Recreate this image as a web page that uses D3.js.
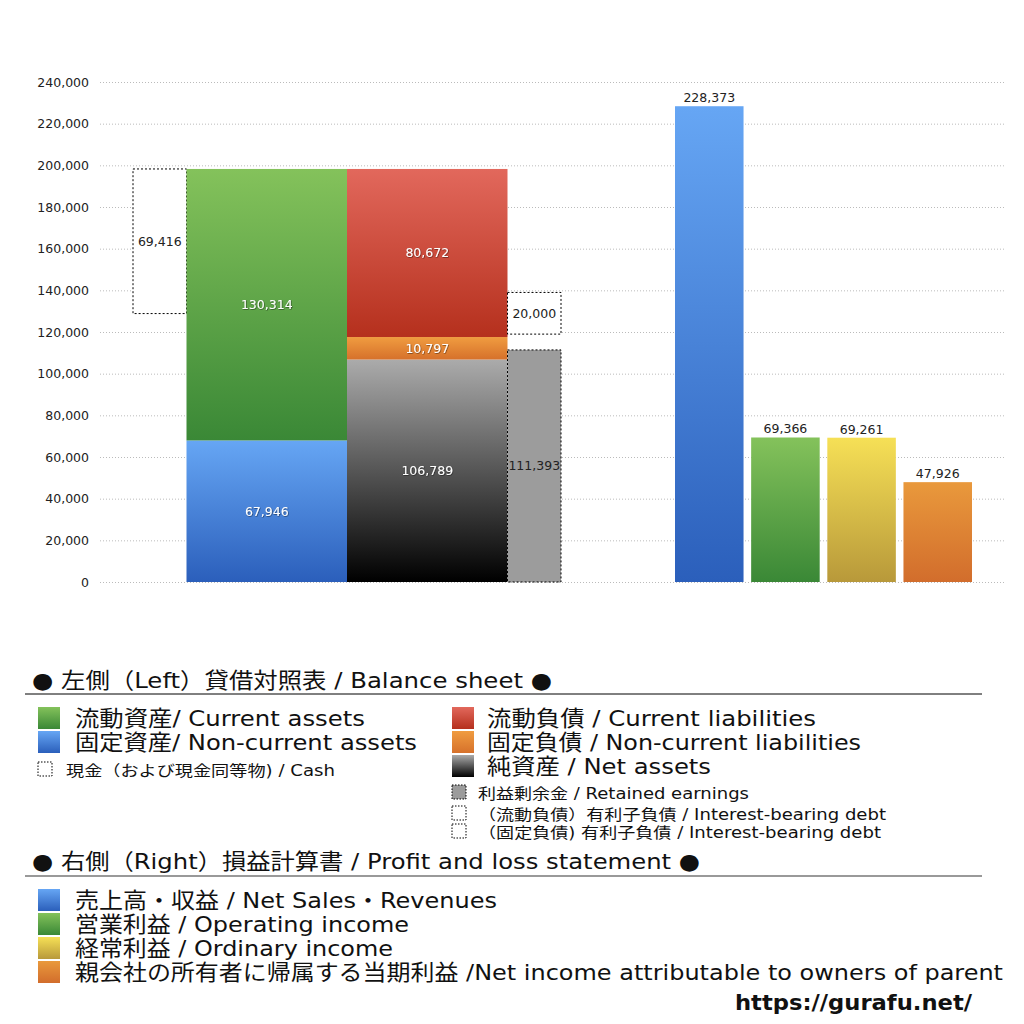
<!DOCTYPE html>
<html>
<head>
<meta charset="utf-8">
<script src="https://cdn.jsdelivr.net/npm/d3@7"></script>
<style>
  body { margin: 0; background: #fff; }
  svg { display: block; font-family: "DejaVu Sans", "Noto Sans CJK JP", sans-serif; }
</style>
</head>
<body>
<div id="chart"></div>
<script>
// ---- data ----
const yTicks = [0, 20000, 40000, 60000, 80000, 100000, 120000, 140000, 160000, 180000, 200000, 220000, 240000];

const assetNames = ["固定資産", "流動資産"];
const assetValues = [67946, 130314];

const liabNames = ["純資産", "固定負債", "流動負債"];
const liabValues = [106789, 10797, 80672];

const cashValue = 69416;
const retainedEarnings = 111393;
const currentDebt = 20000;

const plNames = ["売上高・収益", "営業利益", "経常利益", "当期利益"];
const plValues = [228373, 69366, 69261, 47926];

// ---- colours ----
const grad = {
  blue: ["#66a6f4", "#2b5fbb"],
  green: ["#84c25b", "#3a8836"],
  red: ["#e2685c", "#b5301d"],
  orange: ["#f09c40", "#d6712b"],
  black: ["#ababab", "#000000"],
  yellow: ["#f6e056", "#b8993a"],
  porange: ["#e9993c", "#d26d2c"]
};
const assetColors = ["blue", "green"];
const liabColors = ["black", "orange", "red"];
const plColors = ["blue", "green", "yellow", "porange"];

const width = 1024, height = 1024;
const svg = d3.select("#chart").append("svg")
  .attr("width", width).attr("height", height);

const defs = svg.append("defs");
Object.entries(grad).forEach(([k, c]) => {
  const g = defs.append("linearGradient").attr("id", "g-" + k)
    .attr("x1", 0).attr("y1", 0).attr("x2", 0).attr("y2", 1);
  g.append("stop").attr("offset", "0%").attr("stop-color", c[0]);
  g.append("stop").attr("offset", "100%").attr("stop-color", c[1]);
});
const shadow = defs.append("filter").attr("id", "shadow")
  .attr("x", "-20%").attr("y", "-40%").attr("width", "140%").attr("height", "180%");
shadow.append("feDropShadow").attr("dx", 0.6).attr("dy", 0.6)
  .attr("stdDeviation", 0.6).attr("flood-color", "#000").attr("flood-opacity", 0.6);

// ---- scales ----
const y = d3.scaleLinear().domain([0, 240000]).range([582, 82]);
const xLeft = d3.scaleLinear().domain([0, 8]).range([133, 561]);
const xRight = d3.scaleBand().domain(plNames).range([675, 972]).paddingInner(0.1);
const fmt = d3.format(",");
const numSize = 12.5;

// ---- grid + axis ----
const axis = d3.axisLeft(y).tickValues(yTicks).tickFormat(fmt)
  .tickSize(-905).tickPadding(11);
const ax = svg.append("g").attr("transform", "translate(100,0)").call(axis);
ax.select(".domain").remove();
ax.selectAll(".tick line").attr("stroke", "#bbb").attr("stroke-dasharray", "1,2");
ax.selectAll(".tick text").attr("font-size", numSize).attr("fill", "#222")
  .attr("font-family", "'DejaVu Sans', sans-serif");

// ---- balance sheet ----
const totalAssets = d3.sum(assetValues);
const assetStack = d3.cumsum(assetValues);
const liabStack = d3.cumsum(liabValues);

// cash dashed box (hanging down from the top of total assets)
svg.append("rect")
  .attr("x", xLeft(0)).attr("width", xLeft(1) - xLeft(0))
  .attr("y", y(totalAssets)).attr("height", y(totalAssets - cashValue) - y(totalAssets))
  .attr("fill", "#fff").attr("stroke", "#000").attr("stroke-dasharray", "2,2");
svg.append("text").attr("x", (xLeft(0) + xLeft(1)) / 2).attr("y", y(totalAssets - cashValue / 2))
  .attr("text-anchor", "middle").attr("dy", "0.35em").attr("font-size", numSize).attr("fill", "#222")
  .text(fmt(cashValue));

// assets column
assetValues.forEach((v, i) => {
  const top = assetStack[i], bot = top - v;
  svg.append("rect")
    .attr("x", xLeft(1)).attr("width", xLeft(4) - xLeft(1))
    .attr("y", y(top)).attr("height", y(bot) - y(top))
    .attr("fill", `url(#g-${assetColors[i]})`);
  svg.append("text").attr("x", (xLeft(1) + xLeft(4)) / 2).attr("y", y(bot + v / 2))
    .attr("text-anchor", "middle").attr("dy", "0.35em").attr("font-size", numSize)
    .attr("fill", "#fff").attr("filter", "url(#shadow)").text(fmt(v));
});

// liabilities + net assets column
liabValues.forEach((v, i) => {
  const top = liabStack[i], bot = top - v;
  svg.append("rect")
    .attr("x", xLeft(4)).attr("width", xLeft(7) - xLeft(4))
    .attr("y", y(top)).attr("height", y(bot) - y(top))
    .attr("fill", `url(#g-${liabColors[i]})`);
  svg.append("text").attr("x", (xLeft(4) + xLeft(7)) / 2).attr("y", y(bot + v / 2))
    .attr("text-anchor", "middle").attr("dy", "0.35em").attr("font-size", numSize)
    .attr("fill", "#fff").attr("filter", "url(#shadow)").text(fmt(v));
});

// retained earnings
svg.append("rect")
  .attr("x", xLeft(7)).attr("width", xLeft(8) - xLeft(7))
  .attr("y", y(retainedEarnings)).attr("height", y(0) - y(retainedEarnings))
  .attr("fill", "#9c9c9c").attr("stroke", "#000").attr("stroke-dasharray", "2,2");
svg.append("text").attr("x", (xLeft(7) + xLeft(8)) / 2).attr("y", y(retainedEarnings / 2))
  .attr("text-anchor", "middle").attr("dy", "0.35em").attr("font-size", numSize).attr("fill", "#222")
  .text(fmt(retainedEarnings));

// current interest-bearing debt (sits on top of the current-liabilities base)
const debtBase = liabStack[1] + 1400;
svg.append("rect")
  .attr("x", xLeft(7)).attr("width", xLeft(8) - xLeft(7))
  .attr("y", y(debtBase + currentDebt)).attr("height", y(debtBase) - y(debtBase + currentDebt))
  .attr("fill", "#fff").attr("stroke", "#000").attr("stroke-dasharray", "2,2");
svg.append("text").attr("x", (xLeft(7) + xLeft(8)) / 2).attr("y", y(debtBase + currentDebt / 2))
  .attr("text-anchor", "middle").attr("dy", "0.35em").attr("font-size", numSize).attr("fill", "#222")
  .text(fmt(currentDebt));

// ---- profit and loss ----
svg.selectAll("rect.pl").data(plValues).join("rect").attr("class", "pl")
  .attr("x", (d, i) => xRight(plNames[i])).attr("width", xRight.bandwidth())
  .attr("y", d => y(d)).attr("height", d => y(0) - y(d))
  .attr("fill", (d, i) => `url(#g-${plColors[i]})`);
svg.selectAll("text.pl").data(plValues).join("text").attr("class", "pl")
  .attr("x", (d, i) => xRight(plNames[i]) + xRight.bandwidth() / 2)
  .attr("y", d => y(d) - 4).attr("text-anchor", "middle")
  .attr("font-size", numSize).attr("fill", "#222").text(d => fmt(d));

// ---- legend ----
const leg = svg.append("g").attr("font-size", 22).attr("fill", "#111");

function square(x, yy, s, color, dashed) {
  const r = leg.append("rect").attr("x", x).attr("y", yy).attr("width", s).attr("height", s);
  if (dashed) r.attr("fill", color || "#fff").attr("stroke", "#000").attr("stroke-dasharray", "1.5,1.5");
  else r.attr("fill", `url(#g-${color})`);
}
// x1 = where the text should end in the reference, used to stretch it to fit
function label(x, yy, txt, x1, size) {
  const t = leg.append("text").attr("x", x).attr("y", yy).text(txt);
  if (size) t.attr("font-size", size);
  if (x1) t.attr("textLength", x1 - x).attr("lengthAdjust", "spacingAndGlyphs");
  return t;
}

label(32, 688, "● 左側（Left）貸借対照表 / Balance sheet ●", 552);
leg.append("line").attr("x1", 25).attr("x2", 982).attr("y1", 694).attr("y2", 694)
  .attr("stroke", "#000").attr("stroke-width", 1);

square(38, 707, 22, "green"); label(75, 726, "流動資産/ Current assets", 365);
square(38, 731, 22, "blue"); label(75, 750, "固定資産/ Non-current assets", 417);
square(38, 762, 14, null, true); label(66, 776, "現金（および現金同等物) / Cash", 335, 15);

square(452, 707, 22, "red"); label(487, 726, "流動負債 /  Current liabilities", 816);
square(452, 731, 22, "orange"); label(487, 750, "固定負債 / Non-current liabilities", 861);
square(452, 755, 22, "black"); label(487, 774, "純資産 / Net assets", 711);
square(452, 785, 14, "#9c9c9c", true); label(478, 799, "利益剰余金 / Retained earnings", 749, 15);
square(452, 806, 14, null, true); label(478, 820, "（流動負債）有利子負債 / Interest-bearing debt", 886, 15);
square(452, 824, 14, null, true); label(478, 838, "（固定負債) 有利子負債 / Interest-bearing debt", 881, 15);

label(32, 869, "● 右側（Right）損益計算書 / Profit and loss statement ●", 700);
leg.append("line").attr("x1", 25).attr("x2", 982).attr("y1", 876).attr("y2", 876)
  .attr("stroke", "#777").attr("stroke-width", 1.5);

square(38, 889, 22, "blue"); label(75, 908, "売上高・収益 / Net Sales・Revenues", 497);
square(38, 913, 22, "green"); label(75, 932, "営業利益 / Operating income", 409);
square(38, 937, 22, "yellow"); label(75, 956, "経常利益 / Ordinary income", 393);
square(38, 961, 22, "porange");
label(75, 980, "親会社の所有者に帰属する当期利益 /Net income attributable to owners of parent", 1003);

label(735, 1010, "https://gurafu.net/", 972, 22).attr("font-weight", "bold");
</script>
</body>
</html>
